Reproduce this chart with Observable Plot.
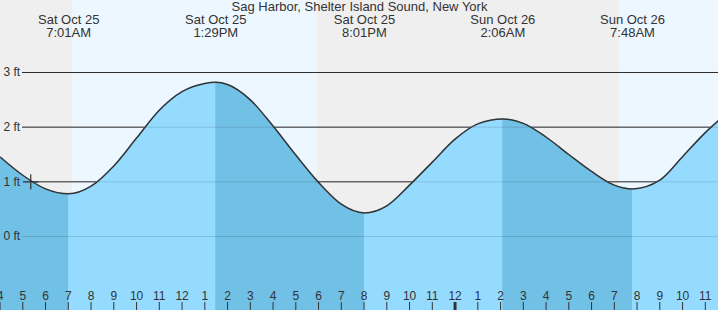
<!DOCTYPE html>
<html><head><meta charset="utf-8">
<script src="https://cdn.jsdelivr.net/npm/d3@7"></script>
<script src="https://cdn.jsdelivr.net/npm/@observablehq/plot@0.6"></script>
<style>html,body{margin:0;padding:0;background:#fff;overflow:hidden}</style>
</head><body><div id="chart"></div>
<script>
const title = "Sag Harbor, Shelter Island Sound, New York";
// tide curve: hours since Sat Oct 25 00:00, water level in ft
const tideHours = [4.02, 5, 6, 7.017, 8, 9, 10, 11, 12, 13, 13.483, 14, 15, 16, 17, 18, 19, 20.017, 21, 22, 23, 24, 25, 26.1, 27, 28, 29, 30, 31, 31.8, 33, 34, 35, 35.58];
const tideFeet  = [1.45, 1.12, 0.87, 0.78, 0.92, 1.29, 1.80, 2.31, 2.65, 2.80, 2.82, 2.78, 2.50, 2.02, 1.49, 0.99, 0.59, 0.43, 0.56, 0.94, 1.36, 1.78, 2.06, 2.15, 2.07, 1.82, 1.50, 1.19, 0.94, 0.87, 1.03, 1.46, 1.90, 2.12];
// high / low events
const eventHours = [7.017, 13.483, 20.017, 26.1, 31.8];
const eventDay = ["Sat Oct 25", "Sat Oct 25", "Sat Oct 25", "Sun Oct 26", "Sun Oct 26"];
const eventTime = ["7:01AM", "1:29PM", "8:01PM", "2:06AM", "7:48AM"];
// night and day spans (hours)
const nightStart = [4.02, 17.92];
const nightEnd = [7.2, 31.24];
const dayStart = [7.2, 31.24];
const dayEnd = [17.92, 35.58];
// falling tide spans (high -> low)
const fallStart = [4.02, 13.483, 26.1];
const fallEnd = [7.017, 20.017, 31.8];
// axis ticks
const hourTicks = [4,5,6,7,8,9,10,11,12,13,14,15,16,17,18,19,20,21,22,23,24,25,26,27,28,29,30,31,32,33,34,35];
const hourLabels = ["4","5","6","7","8","9","10","11","12","1","2","3","4","5","6","7","8","9","10","11","12","1","2","3","4","5","6","7","8","9","10","11"];
const midnightTick = [24];
const feetTicks = [0, 1, 2, 3];
const feetLabels = ["0 ft", "1 ft", "2 ft", "3 ft"];
const nowHour = [5.35];
const nowFeet = [1.0];

const tide = tideHours.map((h, i) => ({h, ft: tideFeet[i]}));
const events = eventHours.map((h, i) => ({h, label: eventDay[i] + "\n" + eventTime[i]}));
const nights = nightStart.map((a, i) => ({a, b: nightEnd[i]}));
const days = dayStart.map((a, i) => ({a, b: dayEnd[i]}));
const falls = fallStart.map((a, i) => ({a, b: fallEnd[i]}));
const now = nowHour.map((h, i) => ({h, ft: nowFeet[i]}));

const xDomain = [4.02, 35.58];
const yDomain = [-1.354, 4.317];
const font = "Arial, 'Liberation Sans', sans-serif";

const svg = Plot.plot({
  width: 718, height: 310, margin: 0,
  x: {domain: xDomain, axis: null},
  y: {domain: yDomain, axis: null},
  style: {fontFamily: font, background: "#fff", color: "#333", overflow: "hidden"},
  marks: [
    Plot.rect(nights, {x1: "a", x2: "b", fill: "#efefef"}),
    Plot.rect(days, {x1: "a", x2: "b", fill: "#edf7ff"}),
    Plot.ruleY(feetTicks, {y: d => d, insetLeft: 22, stroke: "#333"}),
    Plot.areaY(tide, {x: "h", y1: yDomain[0], y2: "ft", curve: "monotone-x", fill: "#95dbff", ariaDescription: "water"}),
    Plot.rect(falls, {x1: "a", x2: "b", fill: "#71c0e5", ariaDescription: "falling"}),
    Plot.ruleY(feetTicks, {y: d => d, insetLeft: 22, stroke: "#000", strokeOpacity: 0.13}),
    Plot.line(tide, {x: "h", y: "ft", curve: "monotone-x", stroke: "#333", strokeWidth: 1.5}),
    Plot.dot(now, {x: "h", y: "ft", symbol: "plus", r: 5, stroke: "#333", strokeWidth: 1.2}),
    Plot.ruleX(hourTicks, {x: d => d, insetTop: 302, stroke: "#333", strokeWidth: 1}),
    Plot.ruleX(midnightTick, {x: d => d, insetTop: 302, stroke: "#333", strokeWidth: 3}),
    Plot.text(hourTicks, {x: d => d, text: (d, i) => hourLabels[i], frameAnchor: "bottom", lineAnchor: "middle", dy: -14.5, fontSize: 12, fill: "#333"}),
    Plot.text(feetTicks, {y: d => d, text: (d, i) => feetLabels[i], frameAnchor: "left", textAnchor: "start", dx: 3, fontSize: 12, fill: "#333"}),
    Plot.text(events, {x: "h", text: "label", frameAnchor: "top", lineAnchor: "top", dy: 14, fontSize: 13, lineHeight: 1.0, fill: "#333"}),
    Plot.text([title], {text: d => d, frameAnchor: "top", lineAnchor: "top", dy: 1, fontSize: 13, fill: "#333"})
  ]
});

// clip the falling-tide shading to the water area drawn by Plot
const ns = "http://www.w3.org/2000/svg";
let waterPath = svg.querySelector('[aria-description="water"] path');
if (!waterPath) { const g = [...svg.querySelectorAll("g")].find(g => g.getAttribute("fill") === "#95dbff"); waterPath = g && g.querySelector("path"); }
let fallG = svg.querySelector('[aria-description="falling"]');
if (!fallG) fallG = [...svg.querySelectorAll("g")].find(g => g.getAttribute("fill") === "#71c0e5");
if (waterPath && fallG) {
  const defs = document.createElementNS(ns, "defs");
  const cp = document.createElementNS(ns, "clipPath");
  cp.setAttribute("id", "water-clip");
  const p = document.createElementNS(ns, "path");
  p.setAttribute("d", waterPath.getAttribute("d"));
  cp.appendChild(p);
  defs.appendChild(cp);
  svg.insertBefore(defs, svg.firstChild);
  fallG.setAttribute("clip-path", "url(#water-clip)");
}
document.getElementById("chart").appendChild(svg);
</script>
</body></html>
